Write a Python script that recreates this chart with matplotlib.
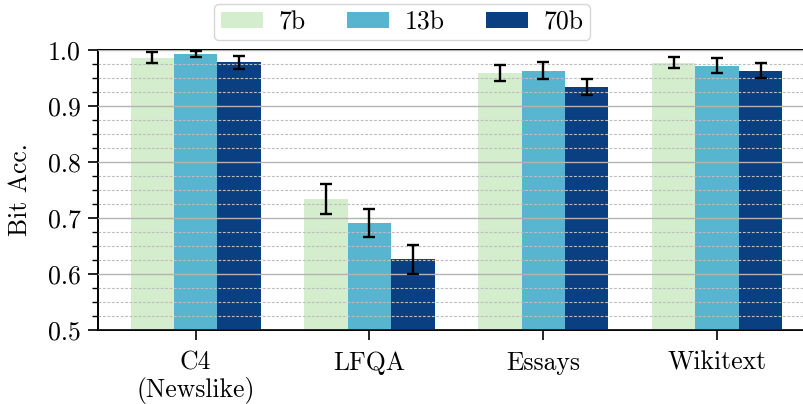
import numpy as np
import matplotlib
matplotlib.use("Agg")
import matplotlib.pyplot as plt
from matplotlib.ticker import MultipleLocator, FormatStrFormatter

plt.rcParams['font.family'] = ['cmr10', 'DejaVu Serif']
plt.rcParams['mathtext.fontset'] = 'cm'
plt.rcParams['axes.formatter.use_mathtext'] = True
plt.rcParams['font.size'] = 18.5

categories = ["C4\n(Newslike)", "LFQA", "Essays", "Wikitext"]
models = ["7b", "13b", "70b"]
acc_7b = [0.986, 0.734, 0.959, 0.977]
acc_13b = [0.993, 0.691, 0.963, 0.972]
acc_70b = [0.978, 0.626, 0.934, 0.963]
err_7b = [0.010, 0.0275, 0.0145, 0.010]
err_13b = [0.005, 0.0245, 0.015, 0.013]
err_70b = [0.012, 0.026, 0.015, 0.013]

colors = ["#d4edcd", "#58b5cf", "#0a4082"]
values = [acc_7b, acc_13b, acc_70b]
errors = [err_7b, err_13b, err_70b]

fig = plt.figure(figsize=(8.04, 4.04), dpi=100)
ax = fig.add_axes([98 / 804, 1 - 330 / 404, 1 - 98 / 804, 280 / 404])

x = np.arange(len(categories))
width = 0.25
for i, (name, vals, errs, c) in enumerate(zip(models, values, errors, colors)):
    pos = x + (i - 1) * width
    ax.bar(pos, vals, width, color=c, label=name, zorder=1)
    ax.errorbar(pos, vals, yerr=errs, fmt="none", ecolor="black",
                elinewidth=1.7, capsize=4.3, capthick=1.7, zorder=4)

ax.set_ylim(0.5, 1.0)
ax.set_xlim(-0.562, 3.5)
ax.yaxis.set_major_locator(MultipleLocator(0.1))
ax.yaxis.set_minor_locator(MultipleLocator(0.025))
ax.yaxis.set_major_formatter(FormatStrFormatter("%.1f"))
ax.set_xticks(x)
ax.set_xticklabels(categories, linespacing=1.1)
ax.set_ylabel("Bit Acc.")
ax.yaxis.set_label_coords(-0.094, 0.5)

ax.set_axisbelow(False)
ax.grid(axis="y", which="major", color="#b3b3b3", linewidth=1.0, zorder=2)
ax.grid(axis="y", which="minor", color="#bdbdbd", linewidth=0.8,
        linestyle=(0, (2.5, 1.5)), zorder=2)

for s in ["left", "bottom", "top"]:
    ax.spines[s].set_linewidth(1.4)
ax.spines["right"].set_visible(False)
ax.tick_params(axis="both", which="major", length=7, width=1.2, direction="out")
ax.tick_params(axis="y", which="major", pad=5.5)
ax.tick_params(axis="y", which="minor", length=4, width=1.0, direction="out")
ax.tick_params(axis="x", pad=8)

fig.legend(loc="upper center", bbox_to_anchor=(0.5, 1.0), ncol=3,
           frameon=True, fancybox=True, edgecolor="#cccccc",
           handlelength=1.65, handleheight=0.55, handletextpad=0.6,
           columnspacing=1.6, borderpad=0.25, borderaxespad=0.15,
           fontsize=18.5)

fig.savefig("out.png", dpi=100)
